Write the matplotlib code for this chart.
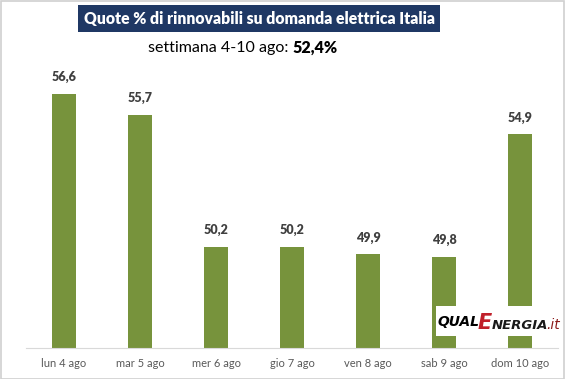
import matplotlib
matplotlib.use("Agg")
import matplotlib.pyplot as plt
from matplotlib.patches import Rectangle

giorni = ["lun 4 ago", "mar 5 ago", "mer 6 ago", "gio 7 ago", "ven 8 ago", "sab 9 ago", "dom 10 ago"]
quote = [56.6, 55.7, 50.2, 50.2, 49.9, 49.8, 54.9]
media_settimana = "52,4%"

plt.rcParams['font.family'] = ['Lato', 'DejaVu Sans']

W, H = 565, 379
fig = plt.figure(figsize=(W / 100, H / 100), dpi=100)
fig.patch.set_facecolor("white")

# bordo grigio intorno all'immagine
fig.patches.append(Rectangle((0.5 / W, 0.5 / H), 1 - 1.5 / W, 1 - 1.5 / H, transform=fig.transFigure,
                             fill=False, edgecolor="#d0d0d0", linewidth=1.2))

ax = fig.add_axes([26 / W, 31 / H, (558 - 26) / W, (348 - 60) / H])
x = range(len(giorni))
ax.bar(x, quote, width=0.32, color="#77933C")
ax.set_ylim(46, 58)
ax.set_xlim(-0.5, len(giorni) - 0.5)

for i, v in enumerate(quote):
    ax.text(i, v + 0.45, f"{v:.1f}".replace(".", ","), ha="center", va="bottom",
            fontsize=9, fontweight="heavy", color="#404040")

ax.set_xticks(list(x))
ax.set_xticklabels(giorni, fontsize=8, color="#595959")
ax.tick_params(axis="x", length=0, pad=7)
ax.set_yticks([])
for s in ["left", "right", "top"]:
    ax.spines[s].set_visible(False)
ax.spines["bottom"].set_color("#d9d9d9")

# titolo su fondo blu
fig.patches.append(Rectangle((78 / W, 1 - 32 / H), (440 - 78) / W, 27 / H, transform=fig.transFigure,
                             facecolor="#1F3864", edgecolor="none"))
fig.text(259 / W, 1 - 18.5 / H, "Quote % di rinnovabili su domanda elettrica Italia",
         ha="center", va="center", color="white", fontsize=11.3, fontweight="heavy")

fig.text(292 / W, 1 - 48 / H, "settimana 4-10 ago: ", ha="right", va="center",
         fontsize=11.5, color="black")
fig.text(292 / W, 1 - 48 / H, media_settimana, ha="left", va="center",
         fontsize=11.5, fontweight="heavy", color="black")

# logo
fig.patches.append(Rectangle((436 / W, 1 - 336 / H), (557 - 436) / W, 30 / H, transform=fig.transFigure,
                             facecolor="white", edgecolor="none"))
renderer = fig.canvas.get_renderer()
parti = [("QUAL", 10, "black", "heavy", 0),
         ("E", 15, "#C0202A", "heavy", -3),
         ("NERGIA", 9.5, "#1a1a1a", "heavy", -3),
         (".it", 10, "#8B1A1A", "normal", -3)]
px = 437
for testo, fs, col, w, dy in parti:
    t = fig.text(px / W, (1 - (326 - dy) / H), testo, ha="left", va="baseline", fontsize=fs,
                 fontweight=w, style="italic", color=col, family=["DejaVu Sans"])
    bb = t.get_window_extent(renderer)
    px += bb.width - 1

fig.savefig("out.png", dpi=100)
